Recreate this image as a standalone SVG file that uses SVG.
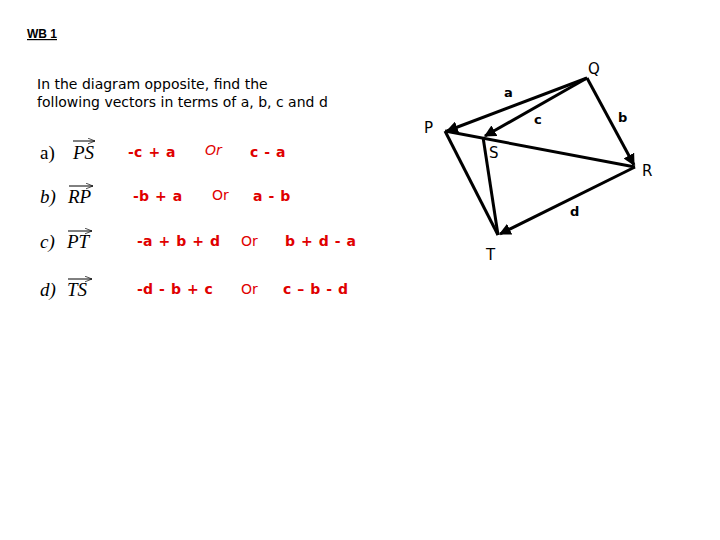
<svg xmlns="http://www.w3.org/2000/svg" width="720" height="540" viewBox="0 0 720 540">
<style>
.hd{font-family:"Liberation Sans",Arial,sans-serif;font-size:12px;font-weight:bold;text-decoration:underline}
.ins{font-family:"DejaVu Sans",sans-serif;font-size:14px;fill:#000}
.q{font-family:"Liberation Serif",serif;font-size:19px;font-style:italic;fill:#000}
.qa{font-family:"Liberation Serif",serif;font-size:19px;fill:#000}
.ans{font-family:"DejaVu Sans",sans-serif;font-size:14px;font-weight:bold;fill:#e00000;letter-spacing:0.3px;word-spacing:0.5px}
.or{font-family:"DejaVu Sans",sans-serif;font-size:14px;fill:#e00000}
.lbl{font-family:"DejaVu Sans",sans-serif;font-size:15px;fill:#000}
.vl{font-family:"DejaVu Sans",sans-serif;font-size:13px;font-weight:bold;fill:#000}
.ln{stroke:#000;stroke-width:3;fill:none}
.ar{stroke:#000;stroke-width:1;fill:none}
</style>
<defs>
<marker id="ah" viewBox="0 0 10 10" refX="9" refY="5" markerWidth="4" markerHeight="4" orient="auto" markerUnits="strokeWidth">
<path d="M0,0 L10,5 L0,10 z" fill="#000"/>
</marker>
<marker id="sa" viewBox="0 0 10 10" refX="10" refY="5" markerWidth="7" markerHeight="7" orient="auto" markerUnits="userSpaceOnUse">
<path d="M0,1 L10,5 L0,9" fill="none" stroke="#000" stroke-width="1"/>
</marker>
</defs>
<text class="hd" x="27" y="38">WB 1</text>
<text class="ins" x="37" y="89">In the diagram opposite, find the</text>
<text class="ins" x="37" y="107">following vectors in terms of a, b, c and d</text>

<g id="qa">
<text class="qa" x="40" y="159">a)</text>
<text class="q" x="73" y="159">PS</text>
<line class="ar" x1="73" y1="141" x2="95" y2="141" marker-end="url(#sa)"/>
<text class="ans" x="128" y="157">-c + a</text>
<text class="or" x="205" y="155" font-style="italic">Or</text>
<text class="ans" x="250" y="157">c - a</text>
</g>
<g id="qb">
<text class="q" x="40" y="203">b)</text>
<text class="q" x="68" y="203">RP</text>
<line class="ar" x1="69" y1="186" x2="93" y2="186" marker-end="url(#sa)"/>
<text class="ans" x="133" y="201">-b + a</text>
<text class="or" x="212" y="200">Or</text>
<text class="ans" x="253" y="201">a - b</text>
</g>
<g id="qc">
<text class="q" x="40" y="248">c)</text>
<text class="q" x="67" y="248">PT</text>
<line class="ar" x1="68" y1="231" x2="92" y2="231" marker-end="url(#sa)"/>
<text class="ans" x="137" y="246">-a + b + d</text>
<text class="or" x="241" y="246">Or</text>
<text class="ans" x="285" y="246">b + d - a</text>
</g>
<g id="qd">
<text class="q" x="40" y="296">d)</text>
<text class="q" x="67" y="296">TS</text>
<line class="ar" x1="68" y1="279" x2="92" y2="279" marker-end="url(#sa)"/>
<text class="ans" x="137" y="294">-d - b + c</text>
<text class="or" x="241" y="294">Or</text>
<text class="ans" x="283" y="294">c – b - d</text>
</g>

<g id="connectors">
<line class="ln" x1="587" y1="78" x2="447" y2="131" marker-end="url(#ah)"/>
<line class="ln" x1="587" y1="78" x2="485" y2="136" marker-end="url(#ah)"/>
<line class="ln" x1="587" y1="78" x2="634" y2="165" marker-end="url(#ah)"/>
<line class="ln" x1="635" y1="167" x2="500" y2="234" marker-end="url(#ah)"/>
<line class="ln" x1="445" y1="131" x2="635" y2="167"/>
<line class="ln" x1="445" y1="131" x2="498" y2="235"/>
<line class="ln" x1="483" y1="137" x2="498" y2="235"/>
</g>

<g id="nodeQ"><text class="lbl" x="588" y="74">Q</text></g>
<g id="nodeP"><text class="lbl" x="424" y="133">P</text></g>
<g id="nodeS"><text class="lbl" x="489" y="158">S</text></g>
<g id="nodeR"><text class="lbl" x="642" y="176">R</text></g>
<g id="nodeT"><text class="lbl" x="486" y="260">T</text></g>
<g id="labels">
<text class="vl" x="504" y="97">a</text>
<text class="vl" x="534" y="124">c</text>
<text class="vl" x="618" y="122">b</text>
<text class="vl" x="570" y="216">d</text>
</g>
</svg>
